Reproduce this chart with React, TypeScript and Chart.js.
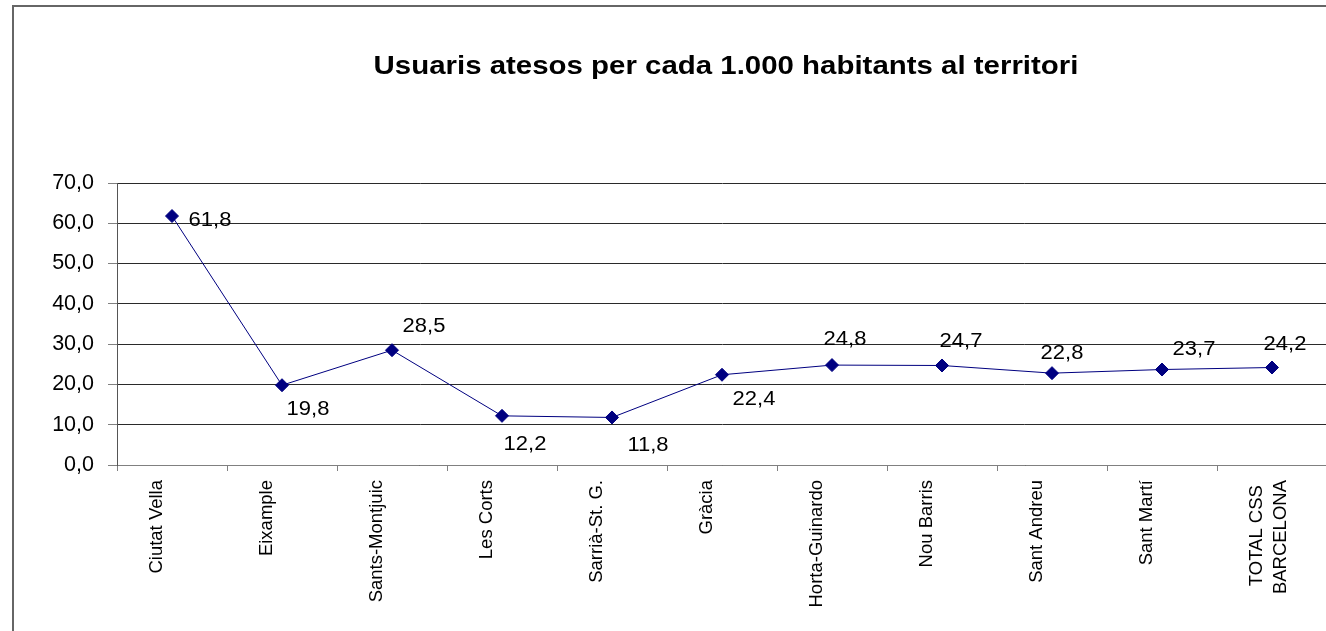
import React, { useEffect, useRef } from "react";
import { Chart, registerables } from "chart.js";

Chart.register(...registerables);

// ---- data ----
const categories: (string | string[])[] = [
  "Ciutat Vella",
  "Eixample",
  "Sants-Montjuic",
  "Les Corts",
  "Sarrià-St. G.",
  "Gràcia",
  "Horta-Guinardo",
  "Nou Barris",
  "Sant Andreu",
  "Sant Martí",
  ["TOTAL CSS\u00A0", "BARCELONA"],
];
const values = [61.8, 19.8, 28.5, 12.2, 11.8, 22.4, 24.8, 24.7, 22.8, 23.7, 24.2];
const yMin = 0;
const yMax = 70;
const yStep = 10;
const titleText = "Usuaris atesos per cada 1.000 habitants al territori";

// label placement (style): offset of each value label from its point, in px
const labelOffsets: [number, number][] = [
  [38, 4], [26, 24], [32, -24], [23, 29], [36, 28], [32, 25],
  [13, -26], [19, -24], [10, -20], [32, -20], [13, -23],
];

const FONT = '"Liberation Sans", Arial, Helvetica, sans-serif';
const fmt = (v: number) => v.toFixed(1).replace(".", ",");

const CW = 1400;
const CH = 700;

const decorPlugin = {
  id: "decor",
  beforeDraw(chart: any) {
    const ctx = chart.ctx;
    ctx.save();
    ctx.fillStyle = "#ffffff";
    ctx.fillRect(0, 0, chart.width, chart.height);
    ctx.strokeStyle = "#666666";
    ctx.lineWidth = 2;
    ctx.strokeRect(13, 6, CW, CH);
    ctx.restore();

    ctx.save();
    ctx.fillStyle = "#000000";
    ctx.font = `bold 25px ${FONT}`;
    ctx.textAlign = "center";
    ctx.textBaseline = "middle";
    ctx.translate(726, 67);
    ctx.scale(1.177, 1);
    ctx.fillText(titleText, 0, 0);
    ctx.restore();
  },
  afterDatasetsDraw(chart: any) {
    const ctx = chart.ctx;
    const meta = chart.getDatasetMeta(0);
    meta.data.forEach((pt: any, i: number) => {
      const off = labelOffsets[i] || [0, -20];
      ctx.save();
      ctx.fillStyle = "#000000";
      ctx.font = `20px ${FONT}`;
      ctx.textAlign = "center";
      ctx.textBaseline = "middle";
      ctx.translate(pt.x + off[0], pt.y + off[1]);
      ctx.scale(1.1, 1);
      ctx.fillText(fmt(values[i]), 0, 0);
      ctx.restore();
    });
  },
};

export default function App() {
  const ref = useRef<HTMLCanvasElement | null>(null);

  useEffect(() => {
    if (!ref.current) return;
    const chart = new Chart(ref.current, {
      type: "line",
      data: {
        labels: categories as any,
        datasets: [
          {
            data: values,
            borderColor: "#000080",
            backgroundColor: "#000080",
            borderWidth: 1,
            pointStyle: "rectRot",
            pointRadius: 6.5,
            pointBackgroundColor: "#000080",
            pointBorderColor: "#000080",
            pointBorderWidth: 1,
            tension: 0,
            fill: false,
          },
        ],
      },
      options: {
        responsive: false,
        maintainAspectRatio: false,
        animation: false,
        devicePixelRatio: 1,
        layout: { padding: { left: 0, top: 183, right: CW - 1327, bottom: 0 } },
        plugins: {
          legend: { display: false },
          title: { display: false },
          tooltip: { enabled: false },
        },
        scales: {
          x: {
            type: "category",
            offset: true,
            afterFit: (scale: any) => {
              scale.height = CH - 465;
            },
            grid: {
              display: true,
              drawOnChartArea: false,
              drawTicks: true,
              tickLength: 6,
              offset: true,
              color: "#808080",
              tickColor: "#808080",
            },
            border: { display: true, color: "#808080", width: 1 },
            ticks: {
              autoSkip: false,
              maxRotation: 90,
              minRotation: 90,
              padding: 9,
              labelOffset: -15,
              color: "#000000",
              font: { family: FONT, size: 18.5, lineHeight: 1.3 },
            },
          },
          y: {
            min: yMin,
            max: yMax,
            afterFit: (scale: any) => {
              scale.width = 117;
            },
            grid: {
              display: true,
              color: "#2a2a2a",
              lineWidth: 1,
              drawTicks: true,
              tickLength: 9,
              tickColor: "#808080",
            },
            border: { display: true, color: "#555555", width: 1 },
            ticks: {
              stepSize: yStep,
              padding: 14,
              color: "#000000",
              font: { family: FONT, size: 21.5 },
              callback: (v: any) => fmt(Number(v)),
            },
          },
        },
      },
      plugins: [decorPlugin],
    } as any);
    return () => chart.destroy();
  }, []);

  return (
    <div
      style={{
        position: "fixed",
        left: 0,
        top: 0,
        width: 1326,
        height: 631,
        overflow: "hidden",
        background: "#ffffff",
      }}
    >
      <canvas ref={ref} width={CW} height={CH} style={{ width: CW, height: CH, display: "block" }} />
    </div>
  );
}
